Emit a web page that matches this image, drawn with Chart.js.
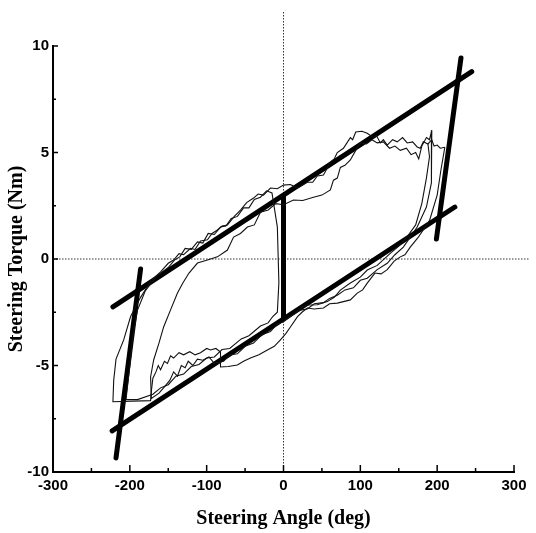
<!DOCTYPE html>
<html>
<head>
<meta charset="utf-8">
<script src="https://cdn.jsdelivr.net/npm/chart.js@4.4.1/dist/chart.umd.min.js"></script>
<style>
  html, body { margin: 0; padding: 0; background: #fff; }
  #wrap { width: 536px; height: 533px; }
</style>
</head>
<body>
<div id="wrap"><canvas id="hysteresisChart"></canvas></div>
<script>
// tick labels
const xTicks = [-300, -200, -100, 0, 100, 200, 300];
const yTicks = [-10, -5, 0, 5, 10];
const xMinorTicks = [-250, -150, -50, 50, 150, 250];
const yMinorTicks = [-7.5, -2.5, 2.5, 7.5];

// model (thick) lines, [angle, torque]
const modelUpper = [[-222, -2.25], [245, 8.8]];
const modelLower = [[-223, -8.07], [223, 2.44]];
const modelLeft = [[-218, -9.34], [-186, -0.47]];
const modelRight = [[199, 0.94], [231, 9.44]];
const modelCentre = [[0, -2.8], [0, 2.9]];

// measured (thin) traces, [angle, torque]
const traceOuter = [
  [210, 5.25], [204, 5.2], [200, 5.35], [196, 5.3], [193, 5.6], [188, 5.4], [182, 5.5],
  [178, 5.2], [174, 5.26], [168, 5.5], [161, 5.45], [155, 5.7], [148, 5.5], [142, 5.6],
  [135, 5.35], [130, 5.6], [126, 5.45], [121, 5.8], [117, 5.7], [109, 5.9], [102, 6.0],
  [94, 5.96], [90, 5.6], [87, 5.7], [78, 5.2], [70, 5.0], [66, 4.7], [61, 4.55],
  [56, 4.2], [52, 3.94], [44, 3.9], [38, 3.6], [31, 3.6], [24, 3.45], [18, 3.33],
  [9, 3.5], [0, 3.47], [-8, 3.3], [-17, 3.33], [-26, 3.0], [-33, 3.05], [-39, 2.86],
  [-48, 2.65], [-56, 2.3], [-64, 2.0], [-73, 1.6], [-80, 1.55], [-86, 1.36], [-93, 1.2],
  [-99, 0.9], [-108, 0.85], [-115, 0.45], [-121, 0.5], [-130, 0.2], [-136, 0.25],
  [-143, -0.05], [-150, -0.2], [-160, -0.6], [-172, -1.0], [-186, -1.8], [-199, -2.7],
  [-208, -3.8], [-218, -4.7], [-221, -5.7], [-222, -6.7], [-173, -6.65], [-172, -6.2],
  [-170, -5.6], [-166, -5.3], [-163, -5.0], [-160, -5.2], [-155, -4.8], [-151, -4.9],
  [-147, -4.55], [-143, -4.65], [-136, -4.4], [-130, -4.5], [-122, -4.35], [-115, -4.5],
  [-108, -4.4], [-100, -4.2], [-95, -4.27], [-88, -4.2], [-82, -4.37], [-82, -5.07],
  [-72, -5.05], [-60, -4.98], [-52, -4.8], [-43, -4.65], [-32, -4.5], [-21, -4.27],
  [-12, -4.1], [-4, -3.8], [3, -3.5], [9, -3.19], [18, -2.72], [24, -2.5], [31, -2.3],
  [40, -2.35], [52, -2.3], [60, -2.1], [70, -2.07], [78, -2.0], [87, -1.92], [96, -1.6],
  [103, -1.45], [109, -1.13], [119, -0.66], [127, -0.7], [135, -0.5], [144, -0.1],
  [152, 0.1], [158, 0.2], [165, 0.56], [175, 1.0], [190, 1.8], [200, 3.0], [205, 4.2],
  [210, 5.25]
];
const traceInner = [
  [193, 6.05], [192, 4.8], [193, 3.57], [186, 2.44], [174, 1.5], [156, 0.56], [145, 0.2],
  [135, -0.2], [122, -0.5], [109, -0.9], [100, -1.0], [91, -1.35], [80, -1.45],
  [70, -1.7], [60, -1.85], [52, -2.05], [40, -2.1], [31, -2.35], [22, -2.4], [13, -2.6],
  [0, -2.95], [-8, -3.05], [-17, -3.4], [-28, -3.55], [-39, -3.95], [-50, -4.1],
  [-60, -4.45], [-70, -4.5], [-78, -4.8], [-90, -4.9], [-97, -4.6], [-105, -4.75],
  [-112, -4.7], [-118, -5.0], [-124, -4.8], [-128, -5.1], [-133, -5.0], [-138, -5.5],
  [-143, -5.3], [-148, -5.7], [-155, -6.0], [-162, -6.3], [-172, -6.55], [-173, -5.54],
  [-169, -4.74], [-162, -3.94], [-156, -3.19], [-147, -2.39], [-138, -1.6], [-131, -1.13],
  [-123, -0.66], [-112, -0.19], [-99, -0.05], [-86, 0.1], [-73, 0.42], [-65, 1.03],
  [-56, 1.2], [-47, 1.5], [-38, 1.6], [-30, 2.2], [-20, 2.3], [-10, 2.6], [0, 2.55],
  [13, 2.77], [25, 2.75], [39, 2.9], [50, 3.0], [61, 3.24], [65, 3.7], [70, 3.8],
  [74, 4.3], [80, 4.4], [87, 4.65], [94, 5.1], [100, 5.45], [108, 5.4], [115, 5.6],
  [122, 5.45], [130, 5.5], [138, 5.2], [145, 5.3], [152, 5.1], [160, 5.2], [166, 4.9],
  [172, 5.0], [176, 4.7], [180, 5.3], [186, 5.7], [190, 5.6], [193, 6.05]
];
const traceLeft = [
  [-205, -6.6], [-200, -5.0], [-196, -3.6], [-190, -2.4], [-180, -1.5], [-165, -0.8],
  [-150, -0.4], [-142, -0.05], [-135, 0.1], [-128, 0.5], [-120, 0.45], [-112, 0.8],
  [-105, 0.75], [-98, 1.2], [-90, 1.15], [-82, 1.5], [-75, 1.55], [-68, 1.9], [-60, 2.0],
  [-52, 2.4], [-45, 2.4], [-38, 2.8], [-30, 2.9], [-22, 3.2], [-15, 3.1], [-8, 1.5],
  [-6, -1.1], [-8, -2.5], [-14, -2.7], [-20, -3.0], [-30, -3.15], [-45, -3.6],
  [-55, -3.75], [-70, -4.2], [-80, -4.25], [-90, -4.6], [-100, -4.65], [-110, -4.95],
  [-120, -5.05], [-130, -5.4], [-140, -5.5], [-150, -5.9], [-160, -6.05], [-170, -6.35],
  [-190, -6.6], [-205, -6.6]
];
const traceRight = [
  [0, -2.9], [13, -2.6], [22, -2.3], [31, -2.16], [44, -2.15], [57, -2.0], [66, -1.8],
  [74, -1.46], [87, -1.13], [100, -0.85], [109, -0.52], [122, -0.3], [140, 0.3],
  [150, 0.6], [160, 1.0], [172, 1.6], [180, 2.6], [186, 3.8], [190, 4.8], [188, 5.4]
];

const toPoints = arr => arr.map(p => ({ x: p[0], y: p[1] }));

function thick(data) {
  return { data: toPoints(data), showLine: true, borderColor: '#000', borderWidth: 5,
    borderCapStyle: 'round', pointRadius: 0, tension: 0 };
}
function thin(data) {
  return { data: toPoints(data), showLine: true, borderColor: '#111', borderWidth: 1.1,
    pointRadius: 0, tension: 0 };
}

// dotted zero lines + inward ticks
const framePlugin = {
  id: 'frame',
  beforeDatasetsDraw(chart) {
    const { ctx, scales: { x, y }, chartArea } = chart;
    const x0 = x.getPixelForValue(0);
    const y0 = y.getPixelForValue(0);
    ctx.save();
    ctx.strokeStyle = '#333';
    ctx.lineWidth = 1;
    ctx.setLineDash([1.5, 1.5]);
    ctx.beginPath();
    ctx.moveTo(x0, 12);
    ctx.lineTo(x0, chartArea.bottom);
    ctx.moveTo(chartArea.left, y0);
    ctx.lineTo(530, y0);
    ctx.stroke();
    ctx.restore();
  },
  afterDraw(chart) {
    const { ctx, scales: { x, y }, chartArea } = chart;
    ctx.save();
    ctx.strokeStyle = '#000';
    ctx.lineWidth = 1.5;
    ctx.beginPath();
    xTicks.forEach(v => {
      const px = x.getPixelForValue(v);
      ctx.moveTo(px, chartArea.bottom);
      ctx.lineTo(px, chartArea.bottom - 7);
    });
    xMinorTicks.forEach(v => {
      const px = x.getPixelForValue(v);
      ctx.moveTo(px, chartArea.bottom);
      ctx.lineTo(px, chartArea.bottom - 4);
    });
    yTicks.forEach(v => {
      const py = y.getPixelForValue(v);
      ctx.moveTo(chartArea.left, py);
      ctx.lineTo(chartArea.left + 5, py);
    });
    yMinorTicks.forEach(v => {
      const py = y.getPixelForValue(v);
      ctx.moveTo(chartArea.left, py);
      ctx.lineTo(chartArea.left + 3, py);
    });
    ctx.stroke();
    ctx.restore();
  }
};

const tickFont = { family: 'Liberation Sans', size: 15, weight: 'bold' };
const titleFont = { family: 'Liberation Serif', size: 20, weight: 'bold' };

new Chart(document.getElementById('hysteresisChart'), {
  type: 'scatter',
  data: {
    datasets: [
      thin(traceOuter), thin(traceInner), thin(traceLeft), thin(traceRight),
      thick(modelUpper), thick(modelLower), thick(modelLeft), thick(modelRight), thick(modelCentre)
    ]
  },
  options: {
    responsive: true,
    maintainAspectRatio: false,
    animation: false,
    layout: { padding: { top: 46, right: 22, left: 0, bottom: 0 } },
    plugins: { legend: { display: false }, tooltip: { enabled: false } },
    scales: {
      x: {
        type: 'linear', min: -300, max: 300,
        afterBuildTicks: s => { s.ticks = xTicks.map(v => ({ value: v })); },
        afterFit: s => { s.height = 61; },
        grid: { display: true, drawOnChartArea: false, drawTicks: false },
        border: { display: true, color: '#000', width: 2 },
        ticks: { color: '#000', font: tickFont, padding: 5, maxRotation: 0 },
        title: { display: true, text: 'Steering Angle (deg)', color: '#000', font: titleFont,
          padding: { top: 0, bottom: 2 } }
      },
      y: {
        type: 'linear', min: -10, max: 10,
        afterBuildTicks: s => { s.ticks = yTicks.map(v => ({ value: v })); },
        afterFit: s => { s.width = 53; },
        grid: { display: true, drawOnChartArea: false, drawTicks: false },
        border: { display: true, color: '#000', width: 2 },
        ticks: { color: '#000', font: tickFont, padding: 4 },
        title: { display: true, text: 'Steering Torque (Nm)', color: '#000', font: titleFont,
          padding: { top: 5, bottom: 0 } }
      }
    }
  },
  plugins: [framePlugin]
});
</script>
</body>
</html>
